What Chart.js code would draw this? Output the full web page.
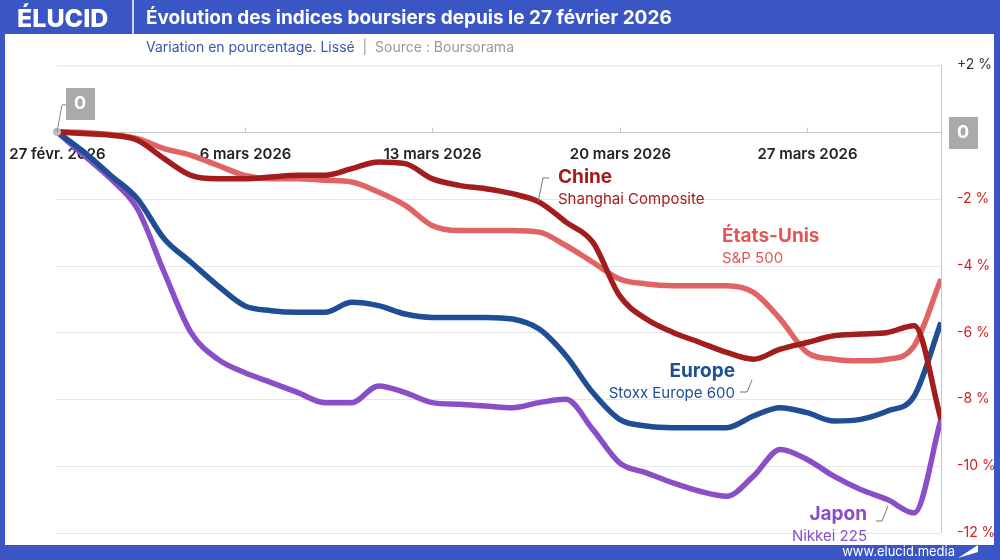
<!DOCTYPE html>
<html><head><meta charset="utf-8">
<script src="https://cdn.jsdelivr.net/npm/chart.js@4"></script>
<style>html,body{margin:0;padding:0;background:#fff}canvas{display:block}</style>
</head><body>
<div style="width:1000px;height:560px"><canvas id="c"></canvas></div>
<script>
const days = [...Array(34).keys()];
const dateTicks = [0,7,14,21,28];
const dateLabels = ['27 févr. 2026','6 mars 2026','13 mars 2026','20 mars 2026','27 mars 2026'];
const yTicks = [2,0,-2,-4,-6,-8,-10,-12];
const chine = [0,-0.05,-0.1,-0.25,-0.8,-1.3,-1.4,-1.4,-1.35,-1.3,-1.3,-1.1,-0.9,-0.95,-1.4,-1.6,-1.7,-1.85,-2.1,-2.7,-3.3,-4.9,-5.6,-6.0,-6.3,-6.6,-6.8,-6.5,-6.3,-6.1,-6.05,-6.0,-5.8,-8.6];
const usa = [0,-0.02,-0.08,-0.2,-0.5,-0.7,-1.0,-1.3,-1.4,-1.4,-1.45,-1.5,-1.8,-2.2,-2.8,-2.95,-2.95,-2.95,-3.0,-3.4,-3.9,-4.4,-4.55,-4.6,-4.6,-4.6,-4.8,-5.6,-6.6,-6.8,-6.85,-6.8,-6.4,-4.4];
const europe = [0,-0.6,-1.3,-2.0,-3.2,-3.9,-4.6,-5.2,-5.35,-5.4,-5.4,-5.1,-5.2,-5.45,-5.55,-5.55,-5.55,-5.6,-5.9,-6.7,-7.8,-8.6,-8.8,-8.85,-8.85,-8.85,-8.5,-8.25,-8.4,-8.65,-8.6,-8.35,-7.9,-5.7];
const japon = [0,-0.7,-1.4,-2.3,-4.2,-6.0,-6.8,-7.2,-7.5,-7.8,-8.1,-8.1,-7.6,-7.8,-8.1,-8.15,-8.2,-8.25,-8.1,-8.0,-8.9,-9.9,-10.2,-10.5,-10.75,-10.9,-10.3,-9.5,-9.8,-10.3,-10.7,-11.0,-11.4,-8.6];
const BLUE='#3a55c4';
const F='Inter,Lato,sans-serif';
const mk=(d,c)=>({data:d.map((v,i)=>({x:days[i],y:v})),borderColor:c,borderWidth:5.5,pointRadius:0,tension:0.4,cubicInterpolationMode:'monotone'});
const deco={id:'deco',
beforeDraw(ch){const g=ch.ctx,a=ch.chartArea,x=ch.scales.x,y=ch.scales.y;
 g.save();
 g.strokeStyle='#e6e6e6';g.lineWidth=1;
 yTicks.forEach(t=>{if(t===0)return;const p=Math.round(y.getPixelForValue(t))+0.5;g.beginPath();g.moveTo(a.left,p);g.lineTo(a.right,p);g.stroke();});
 g.strokeStyle='#c8c8c8';g.beginPath();g.moveTo(a.right+0.5,y.getPixelForValue(2));g.lineTo(a.right+0.5,y.getPixelForValue(-12));g.stroke();
 const z=Math.round(y.getPixelForValue(0))+0.5;
 g.beginPath();g.moveTo(a.left,z);g.lineTo(a.right,z);g.stroke();
 dateTicks.forEach((t,i)=>{const p=Math.round(x.getPixelForValue(t))+0.5;if(i>0){g.beginPath();g.moveTo(p,z);g.lineTo(p,z-5);g.stroke();}
  g.fillStyle='#222';g.font='600 15px '+F;g.textAlign='center';g.textBaseline='middle';g.fillText(dateLabels[i],p,z+22);});
 g.restore();},
afterDraw(ch){const g=ch.ctx,a=ch.chartArea,x=ch.scales.x,y=ch.scales.y;
 g.save();
 g.fillStyle=BLUE;g.fillRect(0,0,1000,34);g.fillRect(0,0,5,560);g.fillRect(994,0,6,560);g.fillRect(0,545,1000,15);
 g.strokeStyle='#fff';g.lineWidth=1.5;g.beginPath();g.moveTo(133,0);g.lineTo(133,34);g.stroke();
 g.fillStyle='#fff';g.textBaseline='middle';g.textAlign='left';
 g.font='800 25px '+F;g.fillText('ÉLUCID',17,19);
 g.font='bold 19px '+F;g.fillText('Évolution des indices boursiers depuis le 27 février 2026',146,18);
 g.font='13px '+F;g.textAlign='right';g.fillText('www.elucid.media',955,552);
 g.beginPath();g.moveTo(958,558);g.lineTo(978,545);g.lineTo(978,552);g.closePath();g.fill();
 g.textAlign='left';g.font='14px '+F;g.fillStyle='#3a55b0';
 const s1='Variation en pourcentage. Lissé';g.fillText(s1,146,48);let w=g.measureText(s1).width;
 g.fillStyle='#999';g.fillText('  |  Source : Boursorama',146+w,48);
 g.strokeStyle='#eee';g.beginPath();g.moveTo(57,66);g.lineTo(940,66);g.stroke();
 const x0=x.getPixelForValue(0),z=y.getPixelForValue(0);
 g.fillStyle='#bbb';g.beginPath();g.arc(x0,z,4,0,7);g.fill();
 g.strokeStyle='#888';g.lineWidth=1;g.beginPath();g.moveTo(x0,z);g.lineTo(x0+5,z-27);g.lineTo(x0+10,z-27);g.stroke();
 g.fillStyle='#aaa';g.fillRect(66,88,29,32);g.fillRect(949,117,29,32);
 g.fillStyle='#fff';g.font='bold 18px '+F;g.textAlign='center';g.fillText('0',80,104);g.fillText('0',963,133);
 const lab=(t1,t2,c,px,py,al)=>{g.fillStyle=c;g.textAlign=al;g.font='bold 19px '+F;g.fillText(t1,px,py);g.font='15px '+F;g.fillText(t2,px,py+22);};
 lab('Chine','Shanghai Composite','#a31d1d',558,177,'left');
 lab('États-Unis','S&P 500','#e05858',722,236,'left');
 lab('Europe','Stoxx Europe 600','#1f4e96',735,371,'right');
 lab('Japon','Nikkei 225','#8a4fc8',867,514,'right');
 g.strokeStyle='#777';g.lineWidth=1;
 g.beginPath();g.moveTo(549,178);g.lineTo(543,178);g.lineTo(538,202);g.stroke();
 g.beginPath();g.moveTo(740,392);g.lineTo(747,392);g.lineTo(752,380);g.stroke();
 g.beginPath();g.moveTo(876,521);g.lineTo(882,521);g.lineTo(888,506);g.stroke();
 g.restore();}};
new Chart(document.getElementById('c'),{type:'line',
data:{datasets:[mk(chine,'#a31d1d'),mk(usa,'#e06464'),mk(europe,'#1f4e96'),mk(japon,'#8a4fc8')]},
options:{responsive:true,maintainAspectRatio:false,animation:false,devicePixelRatio:1,
 layout:{padding:{left:57,right:6,top:65,bottom:27}},
 plugins:{legend:{display:false},tooltip:{enabled:false}},
 scales:{
  x:{type:'linear',min:0,max:33,display:false},
  y:{position:'right',min:-12,max:2,afterFit(s){s.width=53;},
   afterBuildTicks(s){s.ticks=yTicks.map(v=>({value:v}));},
   grid:{display:false},border:{display:false},
   ticks:{padding:8,font:{size:14,family:F},
    color:c=>c.tick.value<0?'#d32020':(c.tick.value===0?'rgba(0,0,0,0)':'#333'),
    callback:v=>v===0?'':(v>0?'+'+v:'-'+Math.abs(v))+' %'}}}},
plugins:[deco]});
</script></body></html>
